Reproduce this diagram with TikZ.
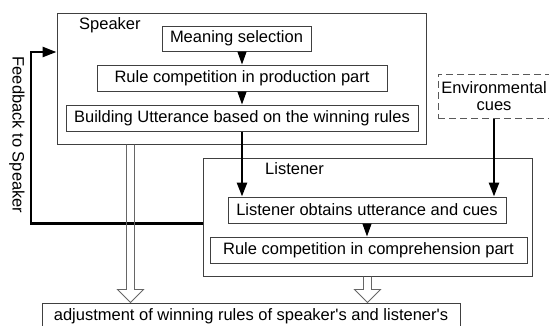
\documentclass[tikz,border=0pt]{standalone}
\usepackage{fontspec}
\setmainfont{Liberation Sans}[Ligatures=TeXOff]
\usetikzlibrary{arrows.meta,calc}

\begin{document}
\begin{tikzpicture}[x=1pt,y=-1pt,>={Triangle[length=14pt,width=10pt]},
  box/.style={draw=black!75,line width=1pt,font=\fontsize{16.5}{19}\selectfont,
    minimum height=26pt,inner sep=0pt},
  frame/.style={draw=black!75,line width=1pt,inner sep=0pt},
  tag/.style={font=\fontsize{16.5}{19}\selectfont,anchor=west,inner sep=0pt},
  thin arrow/.style={-{Triangle[length=13pt,width=9pt]},line width=1.3pt},
  thick arrow/.style={->,line width=2.6pt,line join=miter},
  hollow/.style={draw=black!60,line width=0.9pt,line join=miter}]

  \path[use as bounding box,clip] (0,0) rectangle (549,325);

  % speaker side
  \node[frame,minimum width=369pt,minimum height=131pt] (spk) at (241.5,78.5) {};
  \node[tag] (spklab) at (79,25) {Speaker};
  \node[box,minimum width=149pt,minimum height=25pt] (mean) at (236.5,38.5) {Meaning selection};
  \node[box,minimum width=290pt] (rprod) at (242,78) {Rule competition in production part};
  \node[box,minimum width=352pt] (bld) at (242,118) {Building Utterance based on the winning rules};

  % listener side
  \node[frame,minimum width=329pt,minimum height=118pt] (lis) at (367.5,217) {};
  \node[tag] (lislab) at (265,169) {Listener};
  \node[box,minimum width=278pt] (obt) at (367,210) {Listener obtains utterance and cues};
  \node[box,minimum width=317pt] (rcomp) at (368.5,250) {Rule competition in comprehension part};

  \node[box,draw=black!65,dash pattern=on 7pt off 4pt,minimum width=112pt,minimum height=44pt,
    align=center,font=\fontsize{16.5}{17}\selectfont] (env) at (494,96) {Environmental\\cues};
  \node[box,minimum width=418pt] (adj) at (251,316)
    {adjustment of winning rules of speaker's and listener's};

  \node[font=\fontsize{16.5}{19}\selectfont,rotate=-90,inner sep=0pt] (fbtext) at (17,135) {Feedback to Speaker};

  \coordinate (fb) at (31,52);
  \coordinate (h1) at ($(spk.south west)+(74,0)$);
  \coordinate (h2) at (lis.south);

  % connectors
  \draw[thin arrow] (rprod.north |- mean.south) -- (rprod.north);
  \draw[thin arrow] (rprod.south) -- (rprod.south |- bld.north);
  \draw[thin arrow] (obt.south) -- (obt.south |- rcomp.north);
  \draw[thick arrow] (bld.south) -- (bld.south |- obt.north);
  \draw[thick arrow] (env.south) -- (env.south |- obt.north);
  \draw[thick arrow] (lis.west |- obt.south) -| (fb) -- (fb -| spk.west);

  \foreach \src in {h1,h2}
    \draw[hollow] ($(\src)+(-4,0)$) -- ($(\src |- adj.north)+(-4,-13)$) -- ++(-9,0)
      -- (\src |- adj.north) -- ++(13,-13) -- ++(-9,0) -- ($(\src)+(4,0)$);
\end{tikzpicture}
\end{document}
